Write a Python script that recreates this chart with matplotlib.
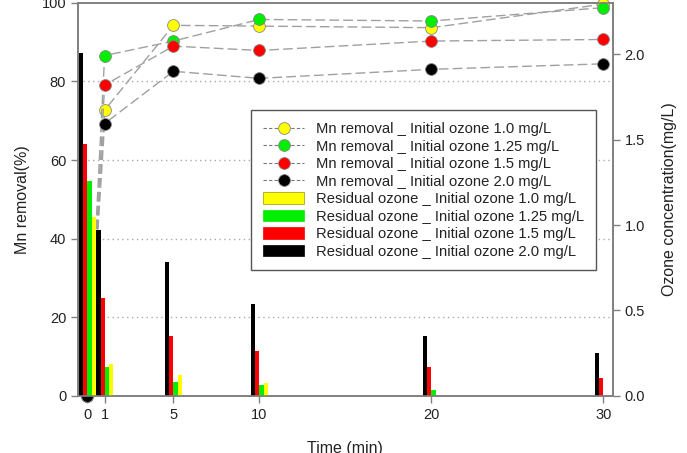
import matplotlib
matplotlib.use("Agg")
import matplotlib.pyplot as plt
from matplotlib.lines import Line2D
from matplotlib.patches import Patch
import numpy as np

plt.rcParams['font.family'] = ['Liberation Sans', 'DejaVu Sans']

time = [0, 1, 5, 10, 20, 30]
doses = ["1.0", "1.25", "1.5", "2.0"]
colors = ["#FFFF00", "#00EE00", "#FF0000", "#000000"]

# Mn removal (%)
mn_10 = [0, 72.7, 94.3, 94.1, 93.7, 99.7]
mn_125 = [0, 86.6, 90.3, 95.8, 95.4, 98.8]
mn_15 = [0, 79.1, 89.0, 87.9, 90.3, 90.7]
mn_20 = [0, 69.3, 82.6, 80.8, 83.1, 84.5]

# Residual ozone (mg/L)
oz_10 = [1.05, 0.186, 0.123, 0.074, 0.0, 0.0]
oz_125 = [1.26, 0.168, 0.078, 0.060, 0.031, 0.0]
oz_15 = [1.475, 0.573, 0.352, 0.260, 0.166, 0.104]
oz_20 = [2.01, 0.973, 0.784, 0.537, 0.348, 0.250]

mn_all = [mn_10, mn_125, mn_15, mn_20]
oz_all = [oz_10, oz_125, oz_15, oz_20]

fig = plt.figure(figsize=(6.87, 4.53), dpi=100)
ax = fig.add_axes([0.1135, 0.1265, 0.7785, 0.867])
ax2 = ax.twinx()

t = np.array(time, dtype=float)
spine_c = '#808080'
txt_c = '#222222'

# Mn removal lines and markers
for vals, c in zip(mn_all, colors):
    ax.plot(t, vals, linestyle=(0, (7, 3)), color='#a0a0a0', lw=1.0,
            marker='o', markersize=8.5, markerfacecolor=c,
            markeredgecolor='#888888', markeredgewidth=0.6, clip_on=False, zorder=3)

# Residual ozone bars: black, red, green, yellow from left to right
w = 0.24
order = [3, 2, 1, 0]
offsets = [-1.5 * w, -0.5 * w, 0.5 * w, 1.5 * w]
for off, idx in zip(offsets, order):
    ax2.bar(t + off, oz_all[idx], width=w, color=colors[idx],
            edgecolor='none', zorder=2)

ax.set_xlim(-0.55, 30.55)
ax.set_ylim(0, 100)
ax2.set_ylim(0, 2.302)
ax.set_xticks(time)
ax.set_yticks([0, 20, 40, 60, 80, 100])
ax2.set_yticks([0.0, 0.5, 1.0, 1.5, 2.0])
ax2.set_yticklabels(['0.0', '0.5', '1.0', '1.5', '2.0'])

for y in [20, 40, 60, 80]:
    ax.axhline(y, color='#aaaaaa', linestyle=(0, (1, 2.5)), lw=1.0, zorder=0)

for a in (ax, ax2):
    for s in a.spines.values():
        s.set_color(spine_c)
        s.set_linewidth(1.2)
    a.tick_params(colors=spine_c, labelcolor=txt_c, labelsize=10.5,
                  length=5, width=1, direction='out')

ax.set_xlabel('Time (min)', fontsize=11.5, color=txt_c, labelpad=14)
ax.set_ylabel('Mn removal(%)', fontsize=11.5, color=txt_c, labelpad=8)
ax2.set_ylabel('Ozone concentration(mg/L)', fontsize=11.5, color=txt_c, labelpad=12)

ax2.set_zorder(ax.get_zorder() + 1)
ax2.patch.set_visible(False)

handles = []
labels = []
for d, c in zip(doses, colors):
    handles.append(Line2D([0], [0], linestyle=(0, (3, 2)), color='#777777', lw=0.8,
                          marker='o', markersize=8.5, markerfacecolor=c,
                          markeredgecolor='#888888', markeredgewidth=0.6))
    labels.append('Mn removal _ Initial ozone %s mg/L' % d)
for d, c in zip(doses, colors):
    handles.append(Patch(facecolor=c, edgecolor='#999900' if c == '#FFFF00' else c, lw=0.5))
    labels.append('Residual ozone _ Initial ozone %s mg/L' % d)

leg = fig.legend(handles, labels, loc='upper left', bbox_to_anchor=(0.355, 0.773),
                 fontsize=10.6, frameon=True, fancybox=False, framealpha=1,
                 edgecolor='#555555', handlelength=2.8, handleheight=0.8,
                 labelspacing=0.24, borderpad=0.8, handletextpad=0.8)
leg.get_frame().set_linewidth(1.0)
for tx in leg.get_texts():
    tx.set_color(txt_c)

fig.savefig('out.png', dpi=100)
